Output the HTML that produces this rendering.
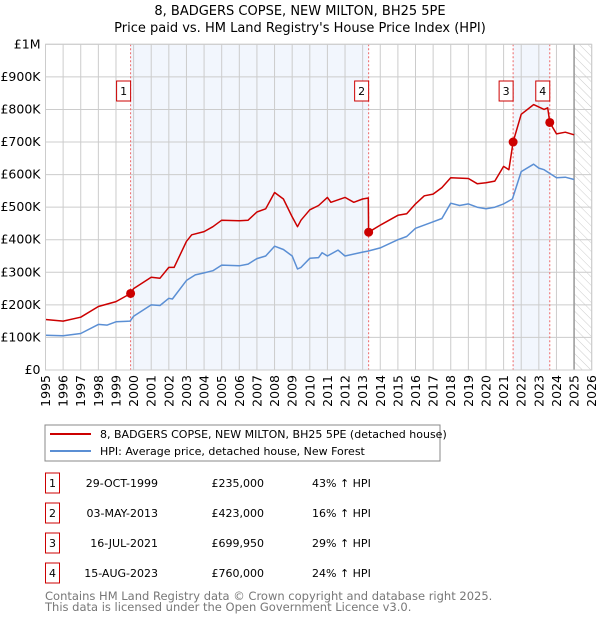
<!DOCTYPE html>
<html><head><meta charset="utf-8">
<style>
body{margin:0;background:#fff;font-family:"Liberation Sans","DejaVu Sans",sans-serif;}
svg text{font-family:"DejaVu Sans","Liberation Sans",sans-serif;}
</style></head>
<body>
<svg id="c" width="600" height="620" xmlns="http://www.w3.org/2000/svg">
<defs>
<pattern id="hatch" width="6" height="6" patternUnits="userSpaceOnUse" patternTransform="rotate(-45)">
<line x1="0" y1="0" x2="0" y2="6" stroke="#ccc" stroke-width="1"/>
</pattern>
</defs>
<text x="300" y="15" text-anchor="middle" font-size="13">8, BADGERS COPSE, NEW MILTON, BH25 5PE</text>
<text x="300" y="32" text-anchor="middle" font-size="13">Price paid vs. HM Land Registry's House Price Index (HPI)</text>
<g id="plot"></g>
<rect x="45" y="425" width="395" height="36" fill="#fff" stroke="#888"/>
<line x1="50" y1="434" x2="91" y2="434" stroke="#cc0000" stroke-width="2"/>
<text x="100" y="438" font-size="11">8, BADGERS COPSE, NEW MILTON, BH25 5PE (detached house)</text>
<line x1="50" y1="451" x2="91" y2="451" stroke="#5b8fd4" stroke-width="2"/>
<text x="100" y="455" font-size="11">HPI: Average price, detached house, New Forest</text>
<g id="tbl"></g>
<text x="45" y="600" font-size="11.5" fill="#777">Contains HM Land Registry data © Crown copyright and database right 2025.</text>
<text x="45" y="611" font-size="11.5" fill="#777">This data is licensed under the Open Government Licence v3.0.</text>
</svg>
<script>
const hpiYears=[1995,1996,1997,1998,1998.5,1999,1999.8,2000,2001,2001.5,2002,2002.2,2003,2003.5,2004,2004.5,2005,2006,2006.5,2007,2007.5,2008,2008.5,2009,2009.3,2009.5,2010,2010.5,2010.7,2011,2011.6,2012,2013,2013.3,2014,2015,2015.5,2016,2016.5,2017,2017.5,2018,2018.5,2019,2019.5,2020,2020.5,2021,2021.5,2022,2022.7,2023,2023.3,2024,2024.5,2025];
const hpiValues=[107,105,112,140,138,148,150,165,200,198,220,218,275,292,298,305,322,320,325,342,350,380,370,350,310,315,343,345,360,350,368,350,362,365,375,400,410,435,445,455,465,512,505,510,500,495,500,510,525,609,632,620,615,590,592,585];
const propYears=[1995,1996,1997,1998,1999,1999.83,2000,2001,2001.5,2002,2002.3,2003,2003.3,2004,2004.5,2005,2006,2006.5,2007,2007.5,2008,2008.5,2009,2009.3,2009.5,2010,2010.5,2011,2011.2,2012,2012.5,2013,2013.32,2013.34,2014,2015,2015.5,2016,2016.5,2017,2017.5,2018,2019,2019.5,2020,2020.5,2021,2021.3,2021.54,2022,2022.7,2023.3,2023.5,2023.62,2024,2024.5,2025];
const propValues=[155,150,162,195,210,235,250,285,282,315,315,395,415,425,440,460,458,460,485,495,545,525,470,440,460,492,505,530,515,530,515,525,528,423,445,475,480,510,535,540,560,590,588,572,575,580,625,615,700,785,815,800,805,760,725,730,722];
const saleLabels=["1","2","3","4"];
const saleYears=[1999.83,2013.34,2021.54,2023.62];
const saleValues=[235,423,699.95,760];
const saleDates=["29-OCT-1999","03-MAY-2013","16-JUL-2021","15-AUG-2023"];
const salePrices=["£235,000","£423,000","£699,950","£760,000"];
const saleHpi=["43% ↑ HPI","16% ↑ HPI","29% ↑ HPI","24% ↑ HPI"];
const yTicks=[0,100,200,300,400,500,600,700,800,900,1000];
const yTickLabels=["£0","£100K","£200K","£300K","£400K","£500K","£600K","£700K","£800K","£900K","£1M"];
const xTicks=[1995,1996,1997,1998,1999,2000,2001,2002,2003,2004,2005,2006,2007,2008,2009,2010,2011,2012,2013,2014,2015,2016,2017,2018,2019,2020,2021,2022,2023,2024,2025,2026];

const NS="http://www.w3.org/2000/svg";
const L=45.5,R=591.7,T=44.3,B=370;
const xs=y=>L+(y-1995)*(R-L)/31;
const ys=v=>B-v*(B-T)/1000;
const g=document.getElementById('plot');
function mk(tag,a,p){const e=document.createElementNS(NS,tag);for(const k in a)e.setAttribute(k,a[k]);(p||g).appendChild(e);return e;}

let e;
e=mk('rect',{x:L,y:T,width:R-L,height:B-T,fill:'#fff'});


for(let i=0;i<2;i++){
 const a=[[saleYears[0],saleYears[1]],[saleYears[2],saleYears[3]]][i];
 e=mk('rect',{x:xs(a[0]),y:T,width:xs(a[1])-xs(a[0]),height:B-T,fill:'#eef3fc',opacity:0.75});
 
 
}
e=mk('rect',{x:xs(2025),y:T,width:R-xs(2025),height:B-T,fill:'url(#hatch)'});


yTicks.forEach((v,i)=>{
 e=mk('line',{x1:L,x2:R,y1:ys(v),y2:ys(v),stroke:'#ccc','stroke-width':1});
 
 
 e=mk('text',{x:L-5,y:ys(v)+4,'text-anchor':'end','font-size':12.5});
 e.textContent=yTickLabels[i];
 
 
});
xTicks.forEach(y=>{
 e=mk('line',{x1:xs(y),x2:xs(y),y1:T,y2:B,stroke:'#ccc','stroke-width':1});
 
 
 e=mk('text',{x:0,y:0,'text-anchor':'end','font-size':12.5,transform:`translate(${xs(y)+4.5},${B+5}) rotate(-90)`});
 e.textContent=y;
 
 
});
e=mk('line',{x1:xs(2025),x2:xs(2025),y1:T,y2:B,stroke:'#999','stroke-width':1.5});


saleYears.forEach((y,i)=>{
 e=mk('line',{x1:xs(y),x2:xs(y),y1:T,y2:B,stroke:'#e66','stroke-width':1,'stroke-dasharray':'2,2'});
 
 
});
function path(xa,va,color,name){
 const d=xa.map((x,i)=>(i?'L':'M')+xs(x).toFixed(1)+','+ys(va[i]).toFixed(1)).join('');
 e=mk('path',{d:d,fill:'none',stroke:color,'stroke-width':1.5,'stroke-linejoin':'round'});
 
 
}
path(hpiYears,hpiValues,'#5b8fd4','hpi-line');
path(propYears,propValues,'#cc0000','property-line');
saleYears.forEach((y,i)=>{
 e=mk('circle',{cx:xs(y),cy:ys(saleValues[i]),r:4.5,fill:'#cc0000'});
 
 
 const bx=xs(y)-8-6;
 e=mk('rect',{x:bx,y:81,width:14,height:20,fill:'#fff',stroke:'#cc0000'});
 
 
 e=mk('text',{x:bx+7,y:95,'text-anchor':'middle','font-size':11});
 e.textContent=saleLabels[i];
 
 
});
e=mk('rect',{x:L,y:T,width:R-L,height:B-T,fill:'none',stroke:'#ccc'});



const t=document.getElementById('tbl');
const rowY=[483,513,543,573];
saleLabels.forEach((s,i)=>{
 const cy=rowY[i];
 e=mk('rect',{x:45.5,y:cy-10,width:14,height:20,fill:'#fff',stroke:'#cc0000'},t);
 
 
 e=mk('text',{x:52.5,y:cy+4,'text-anchor':'middle','font-size':11},t);
 e.textContent=s;
 
 
 e=mk('text',{x:158,y:cy+4,'text-anchor':'end','font-size':11},t);
 e.textContent=saleDates[i];
 
 
 e=mk('text',{x:264,y:cy+4,'text-anchor':'end','font-size':11},t);
 e.textContent=salePrices[i];
 
 
 e=mk('text',{x:312,y:cy+4,'font-size':11},t);
 e.textContent=saleHpi[i];
 
 
});
</script>
</body></html>
